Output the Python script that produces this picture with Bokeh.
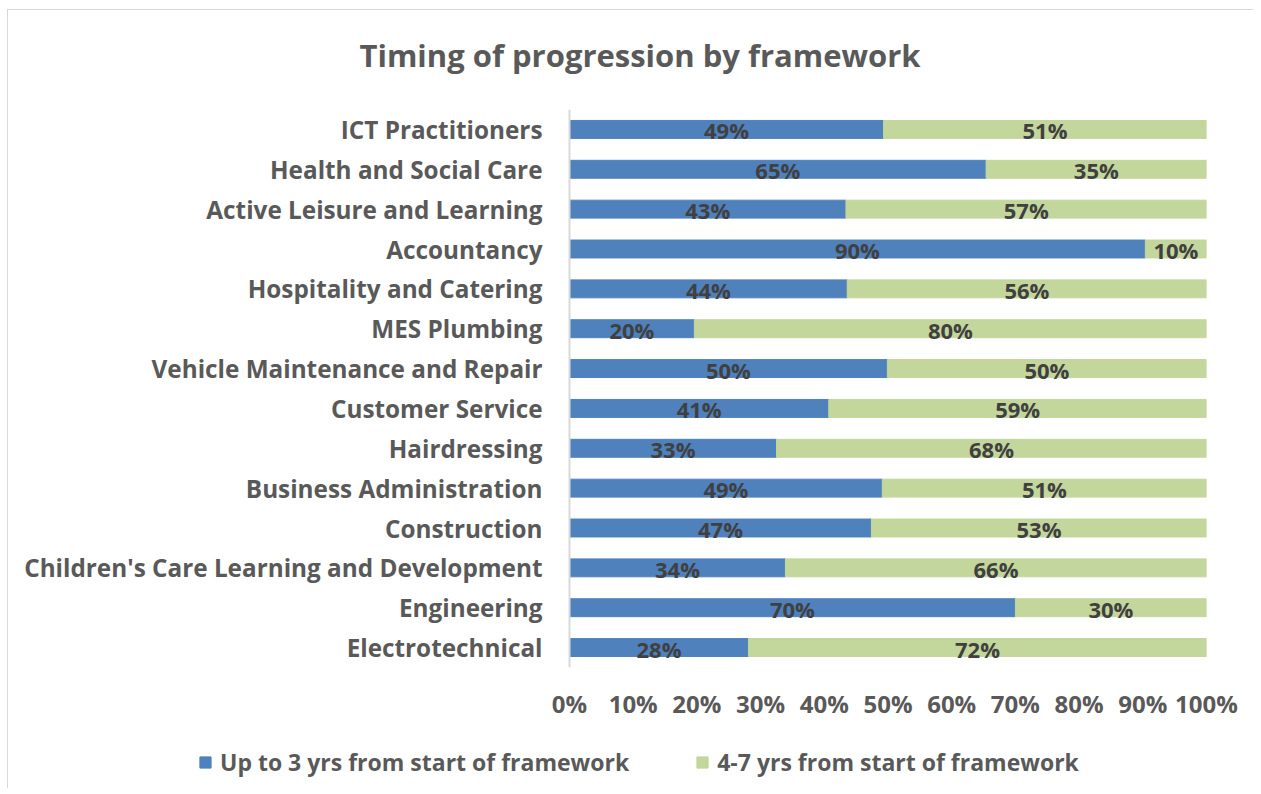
from bokeh.plotting import figure
from bokeh.layouts import column
from bokeh.models import (ColumnDataSource, Legend, LegendItem, LabelSet, Label, Span,
                          PrintfTickFormatter, FixedTicker, Range1d)
from bokeh.core.properties import value
from bokeh.embed import file_html
from bokeh.resources import INLINE

categories = ["Electrotechnical", "Engineering", "Children's Care Learning and Development",
              "Construction", "Business Administration", "Hairdressing", "Customer Service",
              "Vehicle Maintenance and Repair", "MES Plumbing", "Hospitality and Catering",
              "Accountancy", "Active Leisure and Learning", "Health and Social Care",
              "ICT Practitioners"]
up_to_3 = [28.1, 70.0, 33.9, 47.4, 49.1, 32.5, 40.7, 49.9, 19.6, 43.6, 90.4, 43.4, 65.4, 49.3]
four_to_7 = [71.9, 30.0, 66.1, 52.6, 50.9, 67.5, 59.3, 50.1, 80.4, 56.4, 9.6, 56.6, 34.6, 50.7]
x_ticks = [0, 10, 20, 30, 40, 50, 60, 70, 80, 90, 100]
series_names = ["Up to 3 yrs from start of framework", "4-7 yrs from start of framework"]
chart_title = "Timing of progression by framework"

FONT = "Open Sans"
TXT = "#595959"
BLUE = "#4F81BD"
GREEN = "#C3D69B"

def lab(v):
    return f"{int(v + 0.5)}%"

src = ColumnDataSource(dict(
    cat=categories,
    zero=[0] * len(categories),
    a_end=up_to_3,
    b_end=[x + y for x, y in zip(up_to_3, four_to_7)],
    a_mid=[x / 2 for x in up_to_3],
    b_mid=[x + y / 2 for x, y in zip(up_to_3, four_to_7)],
    a_lab=[lab(v) for v in up_to_3],
    b_lab=[lab(v) for v in four_to_7],
))

# layout in pixels (figure-relative)
W, H0, H1, H2 = 1245, 99, 631, 48
RB = 47                # right border
AXIS_PX = 561          # where 0% sits, from the frame's left edge
SCALE_PX = 637         # width of 0..100%
x_start = -100.0 * AXIS_PX / SCALE_PX
x_end = 100.0 + 100.0 * (W - RB - AXIS_PX - SCALE_PX) / SCALE_PX


def strip(height):
    f = figure(width=W, height=height, x_range=Range1d(0, 1), y_range=Range1d(0, 1),
               output_backend="svg", toolbar_location=None,
               x_axis_location=None, y_axis_location=None,
               min_border_left=0, min_border_right=RB, min_border_top=0, min_border_bottom=0)
    f.outline_line_color = None
    f.xgrid.visible = False
    f.ygrid.visible = False
    return f


# title strip
hd = strip(H0)
hd.add_layout(Label(x=351, y=H0 - 44, x_units="screen", y_units="screen", text=chart_title,
                    text_align="left", text_baseline="middle",
                    text_font=FONT, text_font_style="bold", text_font_size="31px",
                    text_color=TXT))

# main chart
p = figure(width=W, height=H1, y_range=categories, x_range=Range1d(x_start, x_end),
           output_backend="svg", toolbar_location=None, y_axis_location=None,
           min_border_left=0, min_border_right=RB, min_border_top=0, min_border_bottom=73)
p.y_range.range_padding = 0
p.outline_line_color = None
p.xgrid.visible = False
p.ygrid.visible = False

r1 = p.hbar(y="cat", left=0, right="a_end", height=0.45, color=BLUE, source=src)
r2 = p.hbar(y="cat", left="a_end", right="b_end", height=0.45, color=GREEN, source=src)

# vertical category axis line at 0%
p.add_layout(Span(location=0, dimension="height", line_color="#D9D9D9", line_width=2))

# category labels
p.add_layout(LabelSet(x="zero", y="cat", text="cat", source=src, x_offset=-27, y_offset=0,
                      text_align="right", text_baseline="middle",
                      text_font=value(FONT), text_font_style="bold",
                      text_font_size="24.3px", text_color=TXT))

for col_x, col_t in (("a_mid", "a_lab"), ("b_mid", "b_lab")):
    p.add_layout(LabelSet(x=col_x, y="cat", text=col_t, source=src,
                          text_align="center", text_baseline="middle", y_offset=-1,
                          text_font=value(FONT), text_font_style="bold",
                          text_font_size="22px", text_color="#404040"))

xa = p.xaxis[0]
xa.ticker = FixedTicker(ticks=x_ticks)
xa.formatter = PrintfTickFormatter(format="%d%%")
xa.axis_line_color = None
xa.major_tick_line_color = None
xa.minor_tick_line_color = None
xa.major_tick_out = 0
xa.major_label_standoff = 19
xa.major_label_text_font = FONT
xa.major_label_text_font_style = "bold"
xa.major_label_text_font_size = "24px"
xa.major_label_text_color = TXT

# legend strip below the chart
lg = strip(H2)
# legend keys share the series' style; the key renderers themselves are hidden
k1 = lg.hbar(y="a_end", left="zero", right="a_end", height=0.45, color=BLUE, source=src,
             visible=False)
k2 = lg.hbar(y="b_end", left="a_end", right="b_end", height=0.45, color=GREEN, source=src,
             visible=False)
legend = Legend(items=[LegendItem(label=series_names[0], renderers=[k1]),
                       LegendItem(label=series_names[1], renderers=[k2])],
                orientation="horizontal", location=(190, 10),
                label_text_font=FONT, label_text_font_style="bold",
                label_text_font_size="23px", label_text_color=TXT,
                glyph_width=14, glyph_height=14, spacing=66, padding=0, margin=0,
                label_standoff=8, border_line_color=None, background_fill_alpha=0,
                inactive_fill_alpha=0)
lg.add_layout(legend, "center")

layout = column(hd, p, lg, spacing=0)
layout.styles = {"margin-left": "7px", "margin-top": "9px",
                 "border-left": "1px solid #D9D9D9", "border-top": "1px solid #D9D9D9"}

open("out.html", "w").write(file_html(layout, INLINE))
